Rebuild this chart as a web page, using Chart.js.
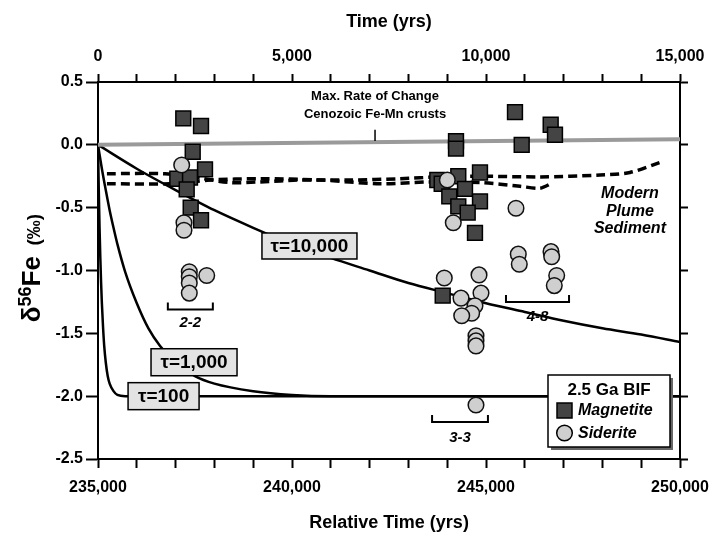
<!DOCTYPE html>
<html>
<head>
<meta charset="utf-8">
<script src="https://cdn.jsdelivr.net/npm/chart.js@4.4.0/dist/chart.umd.min.js"></script>
<style>
  html, body { margin: 0; padding: 0; background: #fff; }
  canvas { display: block; }
</style>
</head>
<body>
<canvas id="chart" width="719" height="534"></canvas>
<script>
const FONT = '"Liberation Sans", Arial, Helvetica, sans-serif';

// tick labels
const relTicks = [235000, 236000, 237000, 238000, 239000, 240000, 241000, 242000, 243000,
                  244000, 245000, 246000, 247000, 248000, 249000, 250000];
const timeTicks = [0, 1000, 2000, 3000, 4000, 5000, 6000, 7000, 8000, 9000, 10000,
                   11000, 12000, 13000, 14000, 15000];
const yTicks = [-2.5, -2.0, -1.5, -1.0, -0.5, 0.0, 0.5];

// 2.5 Ga BIF data
const magnetiteX = [237198, 237655, 237441, 237758, 237044, 237371, 237286, 237389, 237655,
                    244227, 244227, 243745, 243858, 244286, 244845, 244459, 244054, 244845,
                    244286, 244528, 244716, 243884,
                    245747, 246667, 246778, 245920];
const magnetiteY = [0.21, 0.15, -0.055, -0.195, -0.27, -0.26, -0.355, -0.50, -0.60,
                    0.03, -0.03, -0.28, -0.31, -0.25, -0.22, -0.35, -0.41, -0.45,
                    -0.49, -0.54, -0.70, -1.20,
                    0.26, 0.16, 0.08, 0.00];
const sideriteX = [237157, 237216, 237216, 237353, 237353, 237353, 237353, 237802,
                   244003, 244157, 243925, 244820, 244871, 244356, 244716, 244631, 244374,
                   244742, 244742, 244742, 244742,
                   245773, 245832, 245858, 246675, 246693, 246822, 246760];
const sideriteY = [-0.16, -0.62, -0.68, -1.01, -1.05, -1.10, -1.18, -1.04,
                   -0.28, -0.62, -1.06, -1.035, -1.18, -1.22, -1.28, -1.34, -1.36,
                   -1.52, -1.56, -1.60, -2.07,
                   -0.505, -0.87, -0.95, -0.85, -0.89, -1.04, -1.12];

// model curves
const tau100X = [235000, 235020, 235040, 235060, 235080, 235100, 235130, 235160, 235200,
                 235250, 235300, 235400, 235500, 235700, 236000, 250000];
const tau100Y = [0, -0.36, -0.66, -0.90, -1.10, -1.26, -1.45, -1.60, -1.73,
                 -1.84, -1.90, -1.96, -1.99, -2.0, -2.0, -2.0];
const tau1000X = [235000, 235100, 235200, 235300, 235400, 235500, 235700, 236000, 236300,
                  236600, 237000, 237500, 238000, 239000, 240000, 241000, 250000];
const tau1000Y = [0, -0.19, -0.36, -0.52, -0.66, -0.79, -1.01, -1.26, -1.46,
                  -1.60, -1.73, -1.84, -1.90, -1.96, -1.99, -2.0, -2.0];
const tau10000X = [235000, 236000, 237000, 238000, 239000, 240000, 241000, 242000,
                   243000, 244000, 245000, 246000, 247000, 248000, 249000, 250000];
const tau10000Y = [0, -0.19, -0.36, -0.52, -0.66, -0.79, -0.90, -1.00,
                   -1.10, -1.18, -1.26, -1.33, -1.40, -1.46, -1.51, -1.57];

// Fe-Mn crust max rate line
const crustX = [235000, 250000];
const crustY = [0.0, 0.045];

// modern plume sediment (two dashed traces)
const plume1X = [235230, 236730, 237630, 238400, 239180, 240210, 241500, 242780, 243810,
                 244850, 246390, 247940, 248710, 249490];
const plume1Y = [-0.23, -0.23, -0.265, -0.30, -0.295, -0.28, -0.28, -0.27, -0.255,
                 -0.25, -0.255, -0.24, -0.22, -0.14];
const plume2X = [235230, 236860, 237890, 239180, 240720, 242270, 243560, 244850, 245880,
                 246390, 246700];
const plume2Y = [-0.31, -0.31, -0.28, -0.27, -0.28, -0.31, -0.295, -0.30, -0.33,
                 -0.345, -0.305];

const pts = (xs, ys) => xs.map((v, i) => ({ x: v, y: ys[i] }));

function lineSet(xs, ys, extra) {
  return Object.assign({
    data: pts(xs, ys),
    showLine: true,
    pointRadius: 0,
    borderColor: '#000',
    borderWidth: 2.5,
    fill: false,
    order: 2
  }, extra);
}

function drawBox(ctx, cx, cy, w, h, text) {
  ctx.fillStyle = '#e3e3e3';
  ctx.strokeStyle = '#000';
  ctx.lineWidth = 1.5;
  ctx.fillRect(cx - w / 2, cy - h / 2, w, h);
  ctx.strokeRect(cx - w / 2, cy - h / 2, w, h);
  ctx.fillStyle = '#000';
  ctx.font = 'bold 19px ' + FONT;
  ctx.textAlign = 'center';
  ctx.textBaseline = 'middle';
  ctx.fillText(text, cx, cy + 1);
}

function drawBracket(ctx, x1, x2, yb, label, ly) {
  ctx.strokeStyle = '#000';
  ctx.lineWidth = 2;
  ctx.beginPath();
  ctx.moveTo(x1, yb - 7);
  ctx.lineTo(x1, yb);
  ctx.lineTo(x2, yb);
  ctx.lineTo(x2, yb - 7);
  ctx.stroke();
  ctx.fillStyle = '#000';
  ctx.font = 'italic bold 15px ' + FONT;
  ctx.textAlign = 'center';
  ctx.textBaseline = 'middle';
  ctx.fillText(label, (x1 + x2) / 2, ly);
}

const notes = {
  id: 'notes',
  afterDatasetsDraw(chart) {
    const { ctx, scales: { x, y } } = chart;
    const X = v => x.getPixelForValue(v);
    const Y = v => y.getPixelForValue(v);
    ctx.save();

    // crust label + pointer
    ctx.fillStyle = '#000';
    ctx.font = 'bold 13px ' + FONT;
    ctx.textAlign = 'center';
    ctx.textBaseline = 'middle';
    ctx.fillText('Max. Rate of Change', X(242140), Y(0.385));
    ctx.fillText('Cenozoic Fe-Mn crusts', X(242140), Y(0.245));
    ctx.strokeStyle = '#000';
    ctx.lineWidth = 1.5;
    ctx.beginPath();
    ctx.moveTo(X(242140), Y(0.12));
    ctx.lineTo(X(242140), Y(0.03));
    ctx.stroke();

    // plume label
    ctx.font = 'italic bold 16px ' + FONT;
    ctx.fillText('Modern', X(248710), Y(-0.39));
    ctx.fillText('Plume', X(248710), Y(-0.53));
    ctx.fillText('Sediment', X(248710), Y(-0.665));

    // tau labels
    drawBox(ctx, X(240450), Y(-0.805), 95, 26, 'τ=10,000');
    drawBox(ctx, X(237475), Y(-1.73), 86, 27, 'τ=1,000');
    drawBox(ctx, X(236690), Y(-2.0), 71, 27, 'τ=100');

    // sample brackets
    drawBracket(ctx, X(236800), X(237960), Y(-1.31), '2-2', Y(-1.42));
    drawBracket(ctx, X(243610), X(245050), Y(-2.205), '3-3', Y(-2.33));
    drawBracket(ctx, X(245515), X(247140), Y(-1.25), '4-8', Y(-1.37));

    ctx.restore();
  },
  afterDraw(chart) {
    const { ctx } = chart;
    ctx.save();
    ctx.fillStyle = '#000';
    ctx.textAlign = 'center';
    ctx.textBaseline = 'middle';
    ctx.font = 'bold 18px ' + FONT;
    ctx.fillText('Time (yrs)', 389, 22);
    ctx.fillText('Relative Time (yrs)', 389, 523);

    // y title with superscript
    ctx.translate(31, 268);
    ctx.rotate(-Math.PI / 2);
    const parts = [
      { t: 'δ', f: 'bold 26px ' + FONT, dy: 0 },
      { t: '56', f: 'bold 18px ' + FONT, dy: -9 },
      { t: 'Fe', f: 'bold 26px ' + FONT, dy: 0 },
      { t: '  (‰)', f: 'bold 19px ' + FONT, dy: 0 }
    ];
    let total = 0;
    parts.forEach(p => { ctx.font = p.f; p.w = ctx.measureText(p.t).width; total += p.w; });
    let cx = -total / 2;
    ctx.textAlign = 'left';
    ctx.textBaseline = 'alphabetic';
    parts.forEach(p => { ctx.font = p.f; ctx.fillText(p.t, cx, 9 + p.dy); cx += p.w; });
    ctx.restore();

    // legend
    ctx.save();
    ctx.fillStyle = '#666';
    ctx.fillRect(551, 378, 122, 72);
    ctx.fillStyle = '#fff';
    ctx.fillRect(548, 375, 122, 72);
    ctx.strokeStyle = '#000';
    ctx.lineWidth = 1.5;
    ctx.strokeRect(548, 375, 122, 72);
    ctx.fillStyle = '#000';
    ctx.font = 'bold 17px ' + FONT;
    ctx.textAlign = 'center';
    ctx.textBaseline = 'middle';
    ctx.fillText('2.5 Ga BIF', 609, 390);
    ctx.fillStyle = '#444';
    ctx.fillRect(557, 403, 15, 15);
    ctx.strokeRect(557, 403, 15, 15);
    ctx.fillStyle = '#cfcfcf';
    ctx.beginPath();
    ctx.arc(564.5, 433, 7.8, 0, Math.PI * 2);
    ctx.fill();
    ctx.stroke();
    ctx.fillStyle = '#000';
    ctx.font = 'italic bold 16px ' + FONT;
    ctx.textAlign = 'left';
    ctx.fillText('Magnetite', 578, 411);
    ctx.fillText('Siderite', 578, 434);
    ctx.restore();
  }
};

const axisGrid = len => ({
  drawOnChartArea: false,
  drawTicks: true,
  tickLength: len,
  tickWidth: 2,
  tickColor: '#000'
});
const axisBorder = { color: '#000', width: 2 };
const tickFont = { family: FONT, size: 16, weight: 'bold' };

new Chart(document.getElementById('chart'), {
  type: 'scatter',
  data: {
    datasets: [
      {
        data: pts(sideriteX, sideriteY),
        pointStyle: 'circle',
        pointRadius: 7.8,
        backgroundColor: '#cfcfcf',
        borderColor: '#111',
        borderWidth: 1.5,
        order: 0
      },
      {
        data: pts(magnetiteX, magnetiteY),
        pointStyle: 'rect',
        pointRadius: 10.5,
        backgroundColor: '#444',
        borderColor: '#000',
        borderWidth: 1.5,
        order: 1
      },
      lineSet(crustX, crustY, { borderColor: '#9a9a9a', borderWidth: 4 }),
      lineSet(plume1X, plume1Y, { borderWidth: 3.5, borderDash: [9, 5], tension: 0.3 }),
      lineSet(plume2X, plume2Y, { borderWidth: 3.5, borderDash: [9, 5], tension: 0.3 }),
      lineSet(tau100X, tau100Y, { cubicInterpolationMode: 'monotone' }),
      lineSet(tau1000X, tau1000Y, { cubicInterpolationMode: 'monotone' }),
      lineSet(tau10000X, tau10000Y, { cubicInterpolationMode: 'monotone' })
    ]
  },
  options: {
    responsive: false,
    animation: false,
    layout: { padding: 0 },
    plugins: { legend: { display: false }, tooltip: { enabled: false } },
    scales: {
      x: {
        type: 'linear', position: 'bottom', min: 235000, max: 250000,
        afterFit: s => { s.height = 75; },
        afterBuildTicks: s => { s.ticks = relTicks.map(v => ({ value: v })); },
        grid: axisGrid(9), border: axisBorder,
        ticks: {
          font: tickFont, color: '#000', padding: 10, autoSkip: false, maxRotation: 0,
          callback: v => (v % 5000 === 0 ? v.toLocaleString('en-US') : '')
        }
      },
      x2: {
        type: 'linear', position: 'top', min: 0, max: 15000,
        afterFit: s => { s.height = 82; },
        afterBuildTicks: s => { s.ticks = timeTicks.map(v => ({ value: v })); },
        grid: axisGrid(8), border: axisBorder,
        ticks: {
          font: tickFont, color: '#000', padding: 8, autoSkip: false, maxRotation: 0,
          callback: v => (v % 5000 === 0 ? v.toLocaleString('en-US') : '')
        }
      },
      y: {
        type: 'linear', position: 'left', min: -2.5, max: 0.5,
        afterFit: s => { s.width = 98; },
        afterBuildTicks: s => { s.ticks = yTicks.map(v => ({ value: v })); },
        grid: axisGrid(12), border: axisBorder,
        ticks: { font: tickFont, color: '#000', padding: 3, callback: v => v.toFixed(1) }
      },
      y2: {
        type: 'linear', position: 'right', min: -2.5, max: 0.5,
        afterFit: s => { s.width = 39; },
        afterBuildTicks: s => { s.ticks = yTicks.map(v => ({ value: v })); },
        grid: axisGrid(8), border: axisBorder,
        ticks: { display: false }
      }
    }
  },
  plugins: [notes]
});
</script>
</body>
</html>
